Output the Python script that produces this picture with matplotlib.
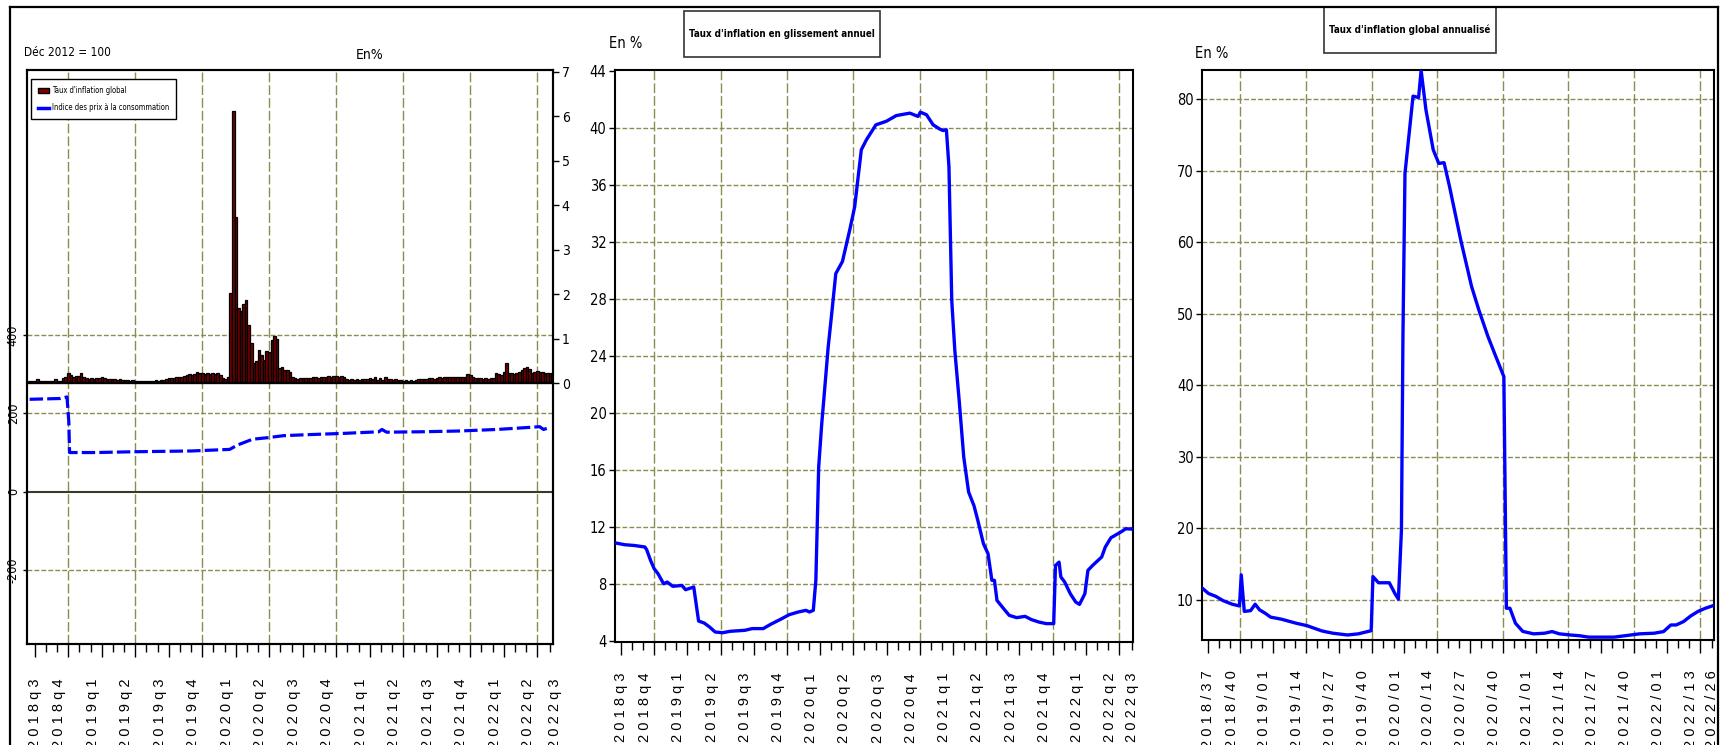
import matplotlib
matplotlib.use("Agg")
import matplotlib.pyplot as plt
from matplotlib import font_manager
from matplotlib.lines import Line2D
from matplotlib.patches import Patch, Rectangle

W, H = 1723, 745
GRID = "#8c8c52"
BLUE = "#0000ff"

# pick the narrowest sans face that is installed
_faces = font_manager.fontManager.ttflist
if any(f.name == "Liberation Sans Narrow" for f in _faces):
    NARROW = {"family": "Liberation Sans Narrow"}
elif any(f.name == "DejaVu Sans" and f.stretch == "condensed" for f in _faces):
    NARROW = {"family": "DejaVu Sans", "stretch": "condensed"}
else:
    NARROW = {"family": "Liberation Sans"}
PLAIN = {"family": "Liberation Sans"}

# tick labels, one every 13 weekly observations (+ last observation)
quarter_labels = ["2018q3", "2018q4", "2019q1", "2019q2", "2019q3", "2019q4",
                  "2020q1", "2020q2", "2020q3", "2020q4", "2021q1", "2021q2",
                  "2021q3", "2021q4", "2022q1", "2022q2", "2022q3"]
week_labels = ["2018/37", "2018/40", "2019/01", "2019/14", "2019/27", "2019/40",
               "2020/01", "2020/14", "2020/27", "2020/40", "2021/01", "2021/14",
               "2021/27", "2021/40", "2022/01", "2022/13", "2022/26"]

# panel 1 - weekly global inflation rate (%), right axis
inflation_weekly = [
    0.04, 0.04, 0.05, 0.09, 0.05, 0.04, 0.04, 0.05, 0.04, 0.05,
    0.09, 0.06, 0.06, 0.12, 0.15, 0.24, 0.18, 0.15, 0.16, 0.16,
    0.22, 0.14, 0.12, 0.10, 0.12, 0.10, 0.12, 0.11, 0.13, 0.11,
    0.10, 0.10, 0.09, 0.09, 0.08, 0.09, 0.08, 0.07, 0.08, 0.06,
    0.07, 0.05, 0.06, 0.05, 0.06, 0.05, 0.06, 0.05, 0.05, 0.07,
    0.06, 0.08, 0.07, 0.09, 0.11, 0.12, 0.12, 0.14, 0.13, 0.15,
    0.17, 0.18, 0.20, 0.19, 0.21, 0.26, 0.24, 0.22, 0.21, 0.22,
    0.20, 0.22, 0.21, 0.23, 0.19, 0.12, 0.10, 0.13, 2.03, 6.12,
    3.73, 1.69, 1.63, 1.77, 1.88, 1.32, 0.90, 0.45, 0.49, 0.75,
    0.63, 0.52, 0.73, 0.71, 0.97, 1.07, 0.99, 0.34, 0.37, 0.30,
    0.29, 0.26, 0.15, 0.11, 0.10, 0.11, 0.11, 0.12, 0.11, 0.12,
    0.13, 0.13, 0.12, 0.14, 0.13, 0.15, 0.16, 0.15, 0.17, 0.16,
    0.15, 0.16, 0.14, 0.10, 0.08, 0.09, 0.08, 0.09, 0.08, 0.10,
    0.09, 0.10, 0.12, 0.10, 0.13, 0.08, 0.11, 0.08, 0.14, 0.10,
    0.09, 0.08, 0.09, 0.07, 0.08, 0.06, 0.07, 0.06, 0.07, 0.06,
    0.08, 0.09, 0.10, 0.09, 0.10, 0.11, 0.12, 0.10, 0.12, 0.13,
    0.12, 0.13, 0.14, 0.13, 0.14, 0.13, 0.14, 0.13, 0.15, 0.14,
    0.20, 0.18, 0.14, 0.12, 0.11, 0.12, 0.10, 0.11, 0.10, 0.11,
    0.12, 0.22, 0.21, 0.19, 0.25, 0.45, 0.22, 0.24, 0.20, 0.22,
    0.25, 0.30, 0.34, 0.37, 0.33, 0.24, 0.26, 0.27, 0.26, 0.25,
    0.22, 0.24, 0.22,
]

# panel 1 - consumer price index (Dec 2012 = 100), left axis
cpi_obs = [0, 12, 14.5, 15.2, 15.5, 25.6, 40.5, 62.8, 77.6, 80.6, 86.5, 92.5,
           98.4, 107.3, 122.1, 135.5, 136.7, 138.5, 151.8, 166.7, 181.5, 193.4,
           197.9, 199.4, 202]
cpi_val = [236, 238, 242, 179, 100, 100, 102, 104, 108, 119, 134, 138,
           143, 145.5, 149, 153, 159, 152, 153, 155, 159, 164,
           166, 159, 164]

# panel 2 - year-on-year inflation (%)
yoy_obs = [0, 3.5, 7.1, 11.4, 12.1, 13.6, 15.0, 16.5, 18.7, 20.1, 22.3, 25.9,
           27.3, 30.5, 32.4, 34.6, 36.7, 38.9, 41.8, 44.7, 50.5, 53.4, 57.7,
           60.6, 65.0, 67.9, 71.5, 74.4, 75.8, 77.3, 78.3, 79.4, 80.6, 81.6,
           83.1, 84.4, 86.1, 88.7, 91.6, 93.5, 96.1, 98.1, 101.8, 105.9, 109.8,
           115.1, 118.3, 119.2, 121.6, 124.2, 126.8, 128.1, 129.4, 130.4, 131.5,
           132.7, 134.4, 136.2, 138.1, 140.2, 141.7, 143.9, 145.7, 147.2, 148.2,
           149.2, 151.8, 154.0, 156.9, 160.2, 162.7, 165.6, 168.5, 171.4, 172.1,
           173.5, 174.2, 175.7, 177.9, 180.0, 181.5, 183.6, 184.8, 186.6, 190.2,
           191.6, 193.8, 198.1, 199.6, 202]
yoy_val = [10.88, 10.76, 10.71, 10.6, 10.4, 9.66, 9.08, 8.73, 8.02, 8.14, 7.84,
           7.9, 7.6, 7.79, 5.4, 5.26, 4.98, 4.63, 4.58, 4.68, 4.75, 4.87, 4.87,
           5.17, 5.57, 5.85, 6.04, 6.15, 6.04, 6.15, 8.26, 16.2, 19.25, 21.36,
           24.6, 26.8, 29.8, 30.65, 32.9, 34.5, 38.5, 39.2, 40.25, 40.5, 40.9,
           41.07, 40.84, 41.14, 40.96, 40.25, 39.95, 39.85, 39.9, 37.3, 27.9,
           24.4, 20.9, 16.9, 14.46, 13.5, 12.47, 10.83, 10.13, 8.26, 8.26,
           6.85, 6.27, 5.8, 5.64, 5.73, 5.5, 5.33, 5.22, 5.22, 9.3,
           9.54, 8.5, 8.14, 7.32, 6.74, 6.57, 7.32, 8.96, 9.3, 9.9,
           10.6, 11.25, 11.7, 11.88, 11.86]

# panel 3 - annualised global inflation (%)
ann_obs = [0, 2.3, 5.2, 8.1, 11.7, 14.6, 15.3, 16.5, 19.0, 20.8, 22.6, 24.8,
           26.9, 31.3, 37.1, 41.4, 47.2, 51.6, 57.4, 61.7, 66.8, 67.5, 69.7,
           74.0, 76.2, 77.6, 78.8, 79.4, 80.2, 83.4, 85.6, 86.6, 88.5, 91.4,
           93.6, 95.7, 97.9, 102.3, 106.6, 109.5, 113.1, 116.0, 119.4, 120.4,
           121.8, 124.0, 126.9, 131.2, 135.6, 138.5, 141.4, 145.7, 149.3, 153.0,
           157.3, 163.1, 167.5, 173.2, 179.0, 182.7, 185.6, 187.7, 190.6, 193.5,
           196.4, 199.3, 202]
ann_val = [11.6, 10.9, 10.5, 9.9, 9.4, 9.16, 13.5, 8.4, 8.5, 9.4, 8.6, 8.14,
           7.6, 7.3, 6.74, 6.4, 5.67, 5.35, 5.1, 5.26, 5.7, 13.26, 12.4,
           12.4, 10.9, 10.1, 19.8, 47.0, 69.6, 80.4, 80.2, 84.0, 78.5, 72.9,
           71.0, 71.1, 67.7, 60.3, 53.8, 50.5, 46.8, 44.2, 41.2, 8.84,
           8.84, 6.74, 5.6, 5.26, 5.35, 5.58, 5.26, 5.1, 5.0, 4.8,
           4.8, 4.8, 5.0, 5.26, 5.35, 5.58, 6.5, 6.5, 6.97, 7.77,
           8.4, 8.84, 9.16]

n_obs = len(inflation_weekly)
major_pos = [2 + 13 * k for k in range(16)] + [n_obs - 1]
minor_pos = [2 + 13 * k + d for k in range(15) for d in (13 / 3, 26 / 3)]

fig = plt.figure(figsize=(W / 100, H / 100), dpi=100)


def px_axes(left, top, right, bottom):
    return fig.add_axes([left / W, 1 - bottom / H, (right - left) / W, (bottom - top) / H])


def style_x(ax, labels, label_top, last_shift):
    # tick marks on the weekly index, labels set slightly left of their tick
    ax.set_xticks(major_pos)
    ax.set_xticklabels([])
    ax.set_xticks(minor_pos, minor=True)
    ax.tick_params(axis="x", which="major", length=9, width=1, direction="out")
    ax.tick_params(axis="x", which="minor", length=5.5, width=1, direction="out")
    ax.xaxis.get_major_ticks()[-1].tick1line.set_markersize(5.5)
    shifts = [0] + [-3.5] * 15 + [last_shift]
    for pos, sh, lab in zip(major_pos, shifts, labels):
        ax.annotate(" ".join(lab), xy=(pos + sh, 0), xycoords=("data", "axes fraction"),
                    xytext=(0, -label_top * 0.72), textcoords="offset points",
                    rotation=90, ha="center", va="top", fontsize=10.5,
                    annotation_clip=False, **PLAIN)
    for xv in major_pos[1:16:2]:
        ax.axvline(xv, color=GRID, lw=1, dashes=(7, 2.2), zorder=0.5)
    for sp in ax.spines.values():
        sp.set_linewidth(1.5)


def hgrid(ax, values):
    for yv in values:
        ax.axhline(yv, color=GRID, lw=1, dashes=(3.5, 1.5), zorder=0.5)


def boxed_title(cx, cy, text, box):
    t = fig.text(cx / W, 1 - cy / H, text, fontsize=7, fontweight="bold",
                 ha="center", va="center", **NARROW)
    fig.canvas.draw()
    tw = t.get_window_extent().width
    left, top, width, height = box
    if tw + 10 > width:
        left, width = cx - (tw + 10) / 2, tw + 10
    fig.add_artist(Rectangle((left / W, 1 - (top + height) / H), width / W, height / H,
                             transform=fig.transFigure, fill=False,
                             edgecolor="#333333", lw=1.2))


# ---- panel 1: mixed bar + line chart
ax1 = px_axes(26.8, 70, 553.3, 644)
ax1.plot(cpi_obs, cpi_val, color=BLUE, lw=2.3, dashes=(4.2, 1.3), zorder=3)
ax1.set_ylim(-389, 1077)
ax1.set_yticks([-200, 0, 200, 400])
ax1.set_yticklabels(["-200", "0", "200", "400"], fontsize=9, rotation=90,
                    va="center", **NARROW)
ax1.tick_params(axis="y", length=3, width=1, pad=2)
hgrid(ax1, [-200, 200, 400])
ax1.axhline(0, color="#3a3a2a", lw=1.5, zorder=0.6)
style_x(ax1, quarter_labels, 34, 2.0)
ax1.set_xlim(-1.1, 203.2)

ax1r = ax1.twinx()
ax1r.bar(range(n_obs), inflation_weekly, width=1.0, color="#6e0000",
         edgecolor="black", linewidth=0.9)
ax1r.axhline(0, color="black", lw=1.5)
ax1r.set_ylim(-5.86, 7.04)
ax1r.set_yticks(range(8))
ax1r.set_yticklabels([str(v) for v in range(8)], fontsize=10, **NARROW)
ax1r.tick_params(axis="y", length=4, width=1, pad=2)
ax1r.set_xlim(-1.1, 203.2)
for sp in ax1r.spines.values():
    sp.set_linewidth(1.5)

fig.legend(handles=[Patch(facecolor="#800000", edgecolor="black"),
                    Line2D([], [], color=BLUE, lw=2.5)],
           labels=["Taux d'inflation global", "Indice des prix à la consommation"],
           loc="upper left", bbox_to_anchor=(31 / W, 1 - 79 / H),
           prop=dict(size=5.5, **NARROW), frameon=True, fancybox=False,
           edgecolor="black", framealpha=1, borderaxespad=0, handlelength=1.5,
           handletextpad=0.3, borderpad=0.9, labelspacing=1.1)
fig.text(24 / W, 1 - 52 / H, "Déc 2012 = 100", fontsize=8.5, ha="left", va="center",
         **NARROW)
fig.text(370 / W, 1 - 55 / H, "En%", fontsize=10, ha="center", va="center", **NARROW)

# ---- panel 2: year-on-year inflation
ax2 = px_axes(614.8, 70, 1133.4, 641.7)
ax2.plot(yoy_obs, yoy_val, color=BLUE, lw=2.4, zorder=3)
ax2.set_ylim(3.95, 44.1)
ax2.set_yticks(range(4, 45, 4))
ax2.set_yticklabels([str(v) for v in range(4, 45, 4)], fontsize=10.5, **NARROW)
ax2.tick_params(axis="y", length=4, width=1, pad=2)
hgrid(ax2, range(8, 44, 4))
style_x(ax2, quarter_labels, 31.3, 0)
ax2.set_xlim(-0.4, 202.6)
fig.text(626 / W, 1 - 44 / H, "En %", fontsize=10.5, ha="center", va="center", **NARROW)
boxed_title(782, 34, "Taux d'inflation en glissement annuel", (705, 11, 155, 46))

# ---- panel 3: annualised inflation
ax3 = px_axes(1201.9, 70, 1714, 640)
ax3.plot(ann_obs, ann_val, color=BLUE, lw=2.4, zorder=3)
ax3.set_ylim(4.4, 84.05)
ax3.set_yticks(range(10, 81, 10))
ax3.set_yticklabels([str(v) for v in range(10, 81, 10)], fontsize=10.5, **NARROW)
ax3.tick_params(axis="y", length=4, width=1, pad=2)
hgrid(ax3, range(10, 81, 10))
style_x(ax3, week_labels, 30, 0)
ax3.set_xlim(-0.3, 202.7)
fig.text(1212 / W, 1 - 53 / H, "En %", fontsize=10.5, ha="center", va="center", **NARROW)
boxed_title(1410, 30, "Taux d'inflation global annualisé", (1341, 7, 139, 46))

# outer frame of the exported graph
for xs, ys in [((10, 1718), (7, 7)), ((10, 10), (7, 745)), ((1718, 1718), (7, 745))]:
    fig.add_artist(Line2D([x / W for x in xs], [1 - y / H for y in ys],
                          transform=fig.transFigure, color="black", lw=1.6))

fig.savefig("out.png", dpi=100)
